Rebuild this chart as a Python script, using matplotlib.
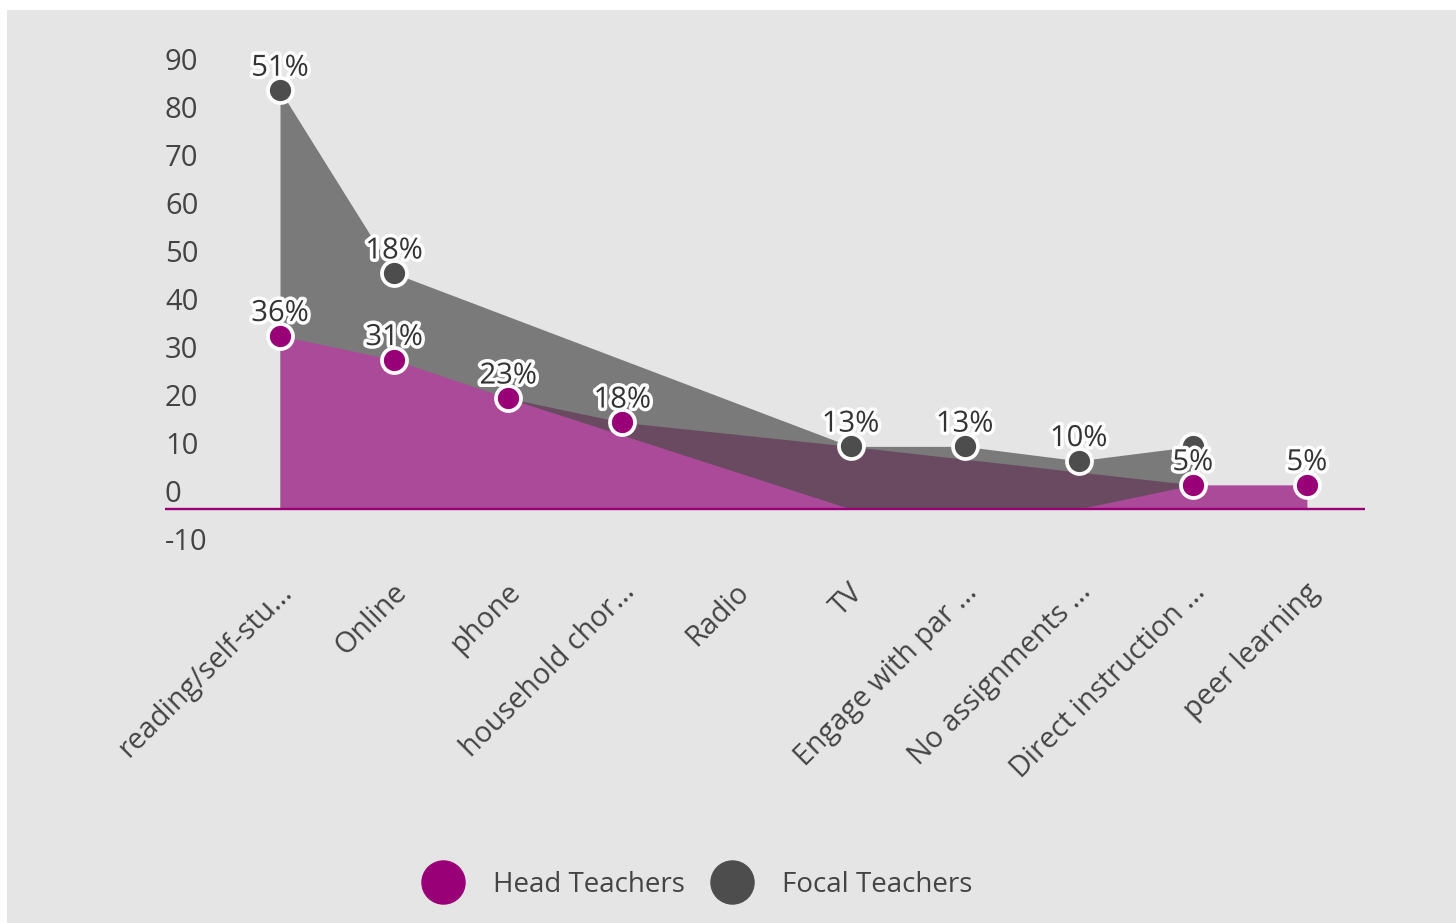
import numpy as np
import matplotlib
matplotlib.use("Agg")
import matplotlib.pyplot as plt
import matplotlib.patheffects as pe
from matplotlib.patches import Rectangle
from matplotlib.lines import Line2D
from matplotlib.transforms import ScaledTranslation

plt.rcParams['font.family'] = ['Open Sans', 'DejaVu Sans']

# categories on the x axis (labels truncated as in the source chart)
categories = ["reading/self-stu...", "Online", "phone", "household chor...", "Radio",
              "TV", "Engage with par ...", "No assignments ...", "Direct instruction ...",
              "peer learning"]

# data label values (percent)
head_pct = [36, 31, 23, 18, np.nan, np.nan, np.nan, np.nan, 5, 5]
focal_pct = [51, 18, np.nan, np.nan, np.nan, 13, 13, 10, 8, np.nan]
focal_hidden = [8]  # label hidden behind the 5% label

# plotted heights of the three visible area layers (nan = no vertex)
head_edge = [36, 31, 23, np.nan, np.nan, 0, 0, 0, 5, 5]
overlap_edge = [np.nan, np.nan, 23, 18, np.nan, 13, np.nan, np.nan, 5, np.nan]
focal_edge = [87, 49, np.nan, np.nan, np.nan, 13, 13, 10, 13, np.nan]

yticks = list(range(-10, 91, 10))

MAGENTA = "#990078"
GRAY = "#4d4d4d"
BG = "#e5e5e5"
TXT = "#444444"

fig = plt.figure(figsize=(14.56, 9.23), dpi=100, facecolor="white")
fig.patches.append(Rectangle((7 / 1456, 0), 1, 913 / 923, transform=fig.transFigure,
                             facecolor=BG, edgecolor="none", zorder=-10))

ax = fig.add_axes([165 / 1456, (923 - 557) / 923, 1200 / 1456, 481 / 923])
ax.set_facecolor("none")
for s in ax.spines.values():
    s.set_visible(False)
ax.set_xlim(-1.008, 9.509)
ax.set_ylim(-10, 90)
ax.set_xticks([])
ax.set_yticks([])

x = np.arange(len(categories))


def layer(vals, color, z):
    v = np.array(vals, dtype=float)
    m = ~np.isnan(v)
    ax.fill_between(x[m], 0, v[m], color=color, lw=0, zorder=z)


layer(focal_edge, "#7a7a7a", 1)
layer(overlap_edge, "#694a60", 2)
layer(head_edge, "#aa4a98", 3)

ax.axhline(0, color=MAGENTA, lw=1.7, zorder=4)

# y tick labels sit above their gridline, left aligned
ylab_off = ScaledTranslation(0, 14 / 100, fig.dpi_scale_trans)
for t in yticks:
    ax.text(0, t, str(t), transform=ax.get_yaxis_transform() + ylab_off,
            ha="left", va="center", fontsize=21, color=TXT)

# rotated category labels
xlab_off = ScaledTranslation(8 / 100, -31 / 100, fig.dpi_scale_trans)
for i, c in enumerate(categories):
    ax.text(i, 0, c, transform=ax.get_xaxis_transform() + xlab_off, rotation=45,
            rotation_mode="anchor", ha="right", va="center", fontsize=20.7, color=TXT)

# markers
head = np.array(head_pct, dtype=float)
focal = np.array(focal_pct, dtype=float)
focal_top = np.nan_to_num(head) + focal
stroke = [pe.withStroke(linewidth=5, foreground="white")]

mh = ~np.isnan(head)
mf = ~np.isnan(focal)
ax.plot(x[mf], focal_top[mf], ls="none", marker="o", ms=18, mfc=GRAY, mec="white",
        mew=2.7, zorder=6, clip_on=False)
ax.plot(x[mh], head[mh], ls="none", marker="o", ms=18, mfc=MAGENTA, mec="white",
        mew=2.7, zorder=7, clip_on=False)

for i in x[mf]:
    if i in focal_hidden:
        continue
    ax.annotate(f"{int(focal[i])}%", (i, focal_top[i]), xytext=(0, 16),
                textcoords="offset points", ha="center", va="center", fontsize=21,
                color="#333333", path_effects=stroke, zorder=9)
for i in x[mh]:
    ax.annotate(f"{int(head[i])}%", (i, head[i]), xytext=(0, 16),
                textcoords="offset points", ha="center", va="center", fontsize=21,
                color="#333333", path_effects=stroke, zorder=9)

handles = [Line2D([], [], ls="none", marker="o", ms=31, mfc=MAGENTA, mec=MAGENTA),
           Line2D([], [], ls="none", marker="o", ms=31, mfc=GRAY, mec=GRAY)]
fig.legend(handles, ["Head Teachers", "Focal Teachers"], ncol=2, loc="center",
           bbox_to_anchor=(697 / 1456, 38 / 923), frameon=False, fontsize=20,
           labelcolor=TXT, handlelength=1.6, handletextpad=1.0, columnspacing=0.9)

fig.savefig("out.png", dpi=100, facecolor="white")
